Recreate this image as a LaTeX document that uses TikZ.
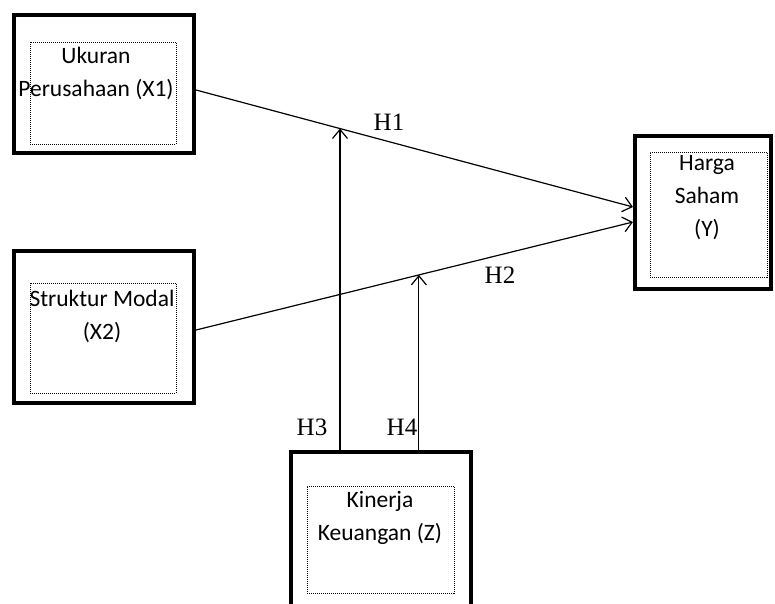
\documentclass[tikz,border=0pt]{standalone}
\usepackage{fontspec}
\setmainfont{Carlito}
\newfontfamily\hypfont{Liberation Serif}
\usetikzlibrary{arrows.meta}

\begin{document}
\begin{tikzpicture}[
    x=1pt, y=-1pt,
    varbox/.style 2 args={rectangle, draw, line width=4pt, inner sep=0pt,
                minimum width=#1, minimum height=#2},
    dotbox/.style 2 args={rectangle, draw, dash pattern=on 1pt off 1pt, line width=1pt,
                inner sep=0pt, minimum width=#1, minimum height=#2},
    lbl/.style={font=\fontsize{23.5}{33}\selectfont, align=center, inner sep=0pt},
    hyp/.style={font=\hypfont\fontsize{25}{30}\selectfont, inner sep=0pt},
    arr/.style={-{Straight Barb[length=9pt, width=15pt]}, line width=1.2pt},
]
\useasboundingbox (0,0) rectangle (775,603);
\clip (0,0) rectangle (775,603);

% variables
\node[varbox={180pt}{138pt}] (x1) at (104,84) {};
\node[varbox={180pt}{152pt}] (x2) at (104,327) {};
\node[varbox={136pt}{153pt}] (y)  at (703,212.5) {};
\node[varbox={180pt}{168pt}] (z)  at (381,536) {};

% dotted text frames
\node[dotbox={146pt}{102pt}] (x1in) at (103,93) {};
\node[dotbox={146pt}{110pt}] (x2in) at (103,338) {};
\node[dotbox={117pt}{125pt}] (yin)  at (708.5,214.5) {};
\node[dotbox={147pt}{107pt}] (zin)  at (380.5,539.5) {};

\node[lbl] (x1txt) at (96,73.5)  {Ukuran\\Perusahaan (X1)};
\node[lbl] (x2txt) at (102,316.5) {Struktur Modal\\(X2)};
\node[lbl] (ytxt)  at (707,198)  {Harga\\Saham\\(Y)};
\node[lbl] (ztxt)  at (380,517.5) {Kinerja\\Keuangan (Z)};

% paths
\draw[arr] ([yshift=-6pt]x1.east) -- coordinate[pos=0.3295] (m1) ([yshift=5.5pt]y.west);
\draw[arr] ([yshift=-3pt]x2.east) -- coordinate[pos=0.510] (m2) ([yshift=-9.5pt]y.west);
\draw[arr] (z.north -| m1) -- (m1);
\draw[arr] (z.north -| m2) -- (m2);

\node[hyp] (h1) at (389,122) {H1};
\node[hyp] (h2) at (500,275) {H2};
\node[hyp] (h3) at (312,427) {H3};
\node[hyp] (h4) at (402,427) {H4};

\end{tikzpicture}
\end{document}
